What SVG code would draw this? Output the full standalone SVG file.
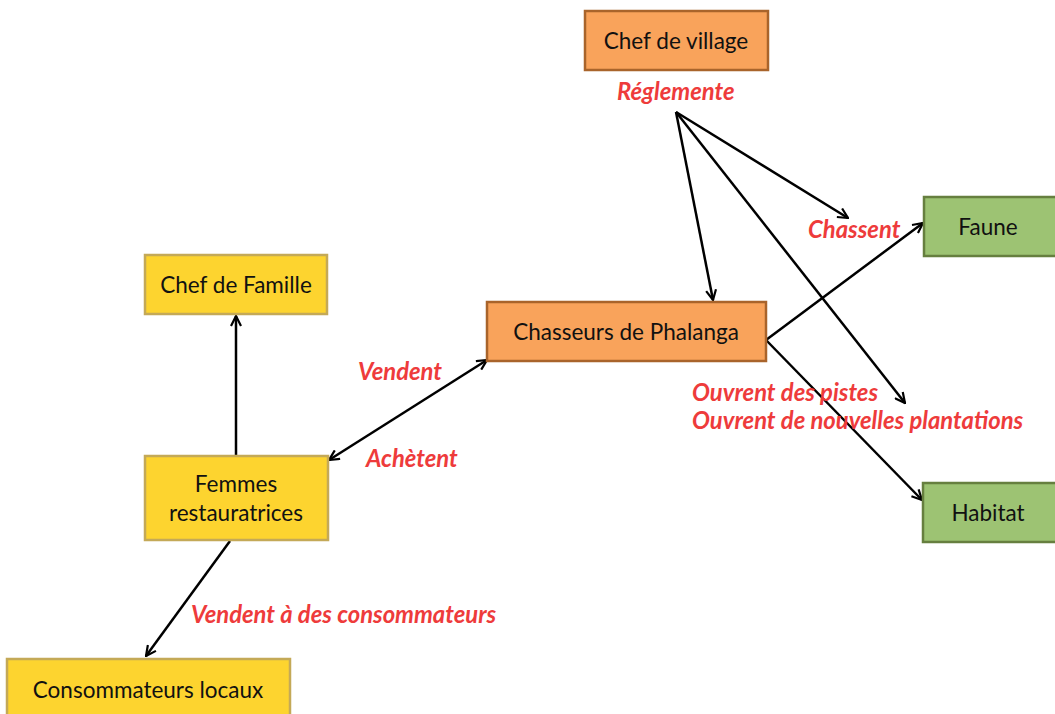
<svg xmlns="http://www.w3.org/2000/svg" width="1055" height="714" viewBox="0 0 1055 714">
<defs>
<style>
.node text{font-family:Lato,"Liberation Sans",sans-serif;font-size:22.5px;fill:#111;text-anchor:middle}
.orange{fill:#F9A35B;stroke:#A9642B;stroke-width:2.5}
.yellow{fill:#FDD42F;stroke:#C4A957;stroke-width:2.5}
.green{fill:#9DC373;stroke:#667F3F;stroke-width:2.5}
.lbl{font-family:Lato,"Liberation Sans",sans-serif;font-size:23.8px;font-style:italic;font-weight:bold;fill:#EE3B3B}
.conn line{stroke:#000;stroke-width:2.5;fill:none}
</style>
<marker id="arr" viewBox="0 0 12 12" refX="11" refY="6" markerWidth="12" markerHeight="12" markerUnits="userSpaceOnUse" orient="auto-start-reverse">
<path d="M1,1 L11,6 L1,11" fill="none" stroke="#000" stroke-width="2.2"/>
</marker>
</defs>
<rect width="1055" height="714" fill="#fff"/>
<g id="connectors" class="conn">
<line x1="676" y1="112" x2="713" y2="300" marker-end="url(#arr)"/>
<line x1="676" y1="112" x2="848" y2="218" marker-end="url(#arr)"/>
<line x1="676" y1="112" x2="905" y2="403" marker-end="url(#arr)"/>
<line x1="766" y1="340" x2="923" y2="223" marker-end="url(#arr)"/>
<line x1="766" y1="340" x2="922" y2="500" marker-end="url(#arr)"/>
<line x1="236" y1="456" x2="236" y2="316" marker-end="url(#arr)"/>
<line x1="329" y1="460" x2="487" y2="360" marker-start="url(#arr)" marker-end="url(#arr)"/>
<line x1="230" y1="541" x2="146" y2="656" marker-end="url(#arr)"/>
</g>
<g id="chef-village" class="node"><rect class="orange" x="585" y="11" width="183" height="59"/><text x="676" y="49">Chef de village</text></g>
<g id="chasseurs" class="node"><rect class="orange" x="487" y="302" width="279" height="59"/><text x="626" y="340">Chasseurs de Phalanga</text></g>
<g id="faune" class="node"><rect class="green" x="924" y="197" width="135" height="59"/><text x="988" y="235">Faune</text></g>
<g id="habitat" class="node"><rect class="green" x="923" y="483" width="136" height="59"/><text x="988" y="521">Habitat</text></g>
<g id="chef-famille" class="node"><rect class="yellow" x="145" y="255" width="182" height="59"/><text x="236" y="293">Chef de Famille</text></g>
<g id="femmes" class="node"><rect class="yellow" x="145" y="456" width="183" height="84"/><text x="236" y="492">Femmes</text><text x="236" y="521">restauratrices</text></g>
<g id="consommateurs" class="node"><rect class="yellow" x="7" y="659" width="283" height="62"/><text x="148" y="698">Consommateurs locaux</text></g>
<g id="labels">
<text class="lbl" x="617" y="100">Réglemente</text>
<text class="lbl" x="808" y="238">Chassent</text>
<text class="lbl" x="358" y="380">Vendent</text>
<text class="lbl" x="366" y="467">Achètent</text>
<text class="lbl" x="692" y="401">Ouvrent des pistes</text>
<text class="lbl" x="692" y="429">Ouvrent de nouvelles plantations</text>
<text class="lbl" x="191" y="623">Vendent à des consommateurs</text>
</g>
</svg>
